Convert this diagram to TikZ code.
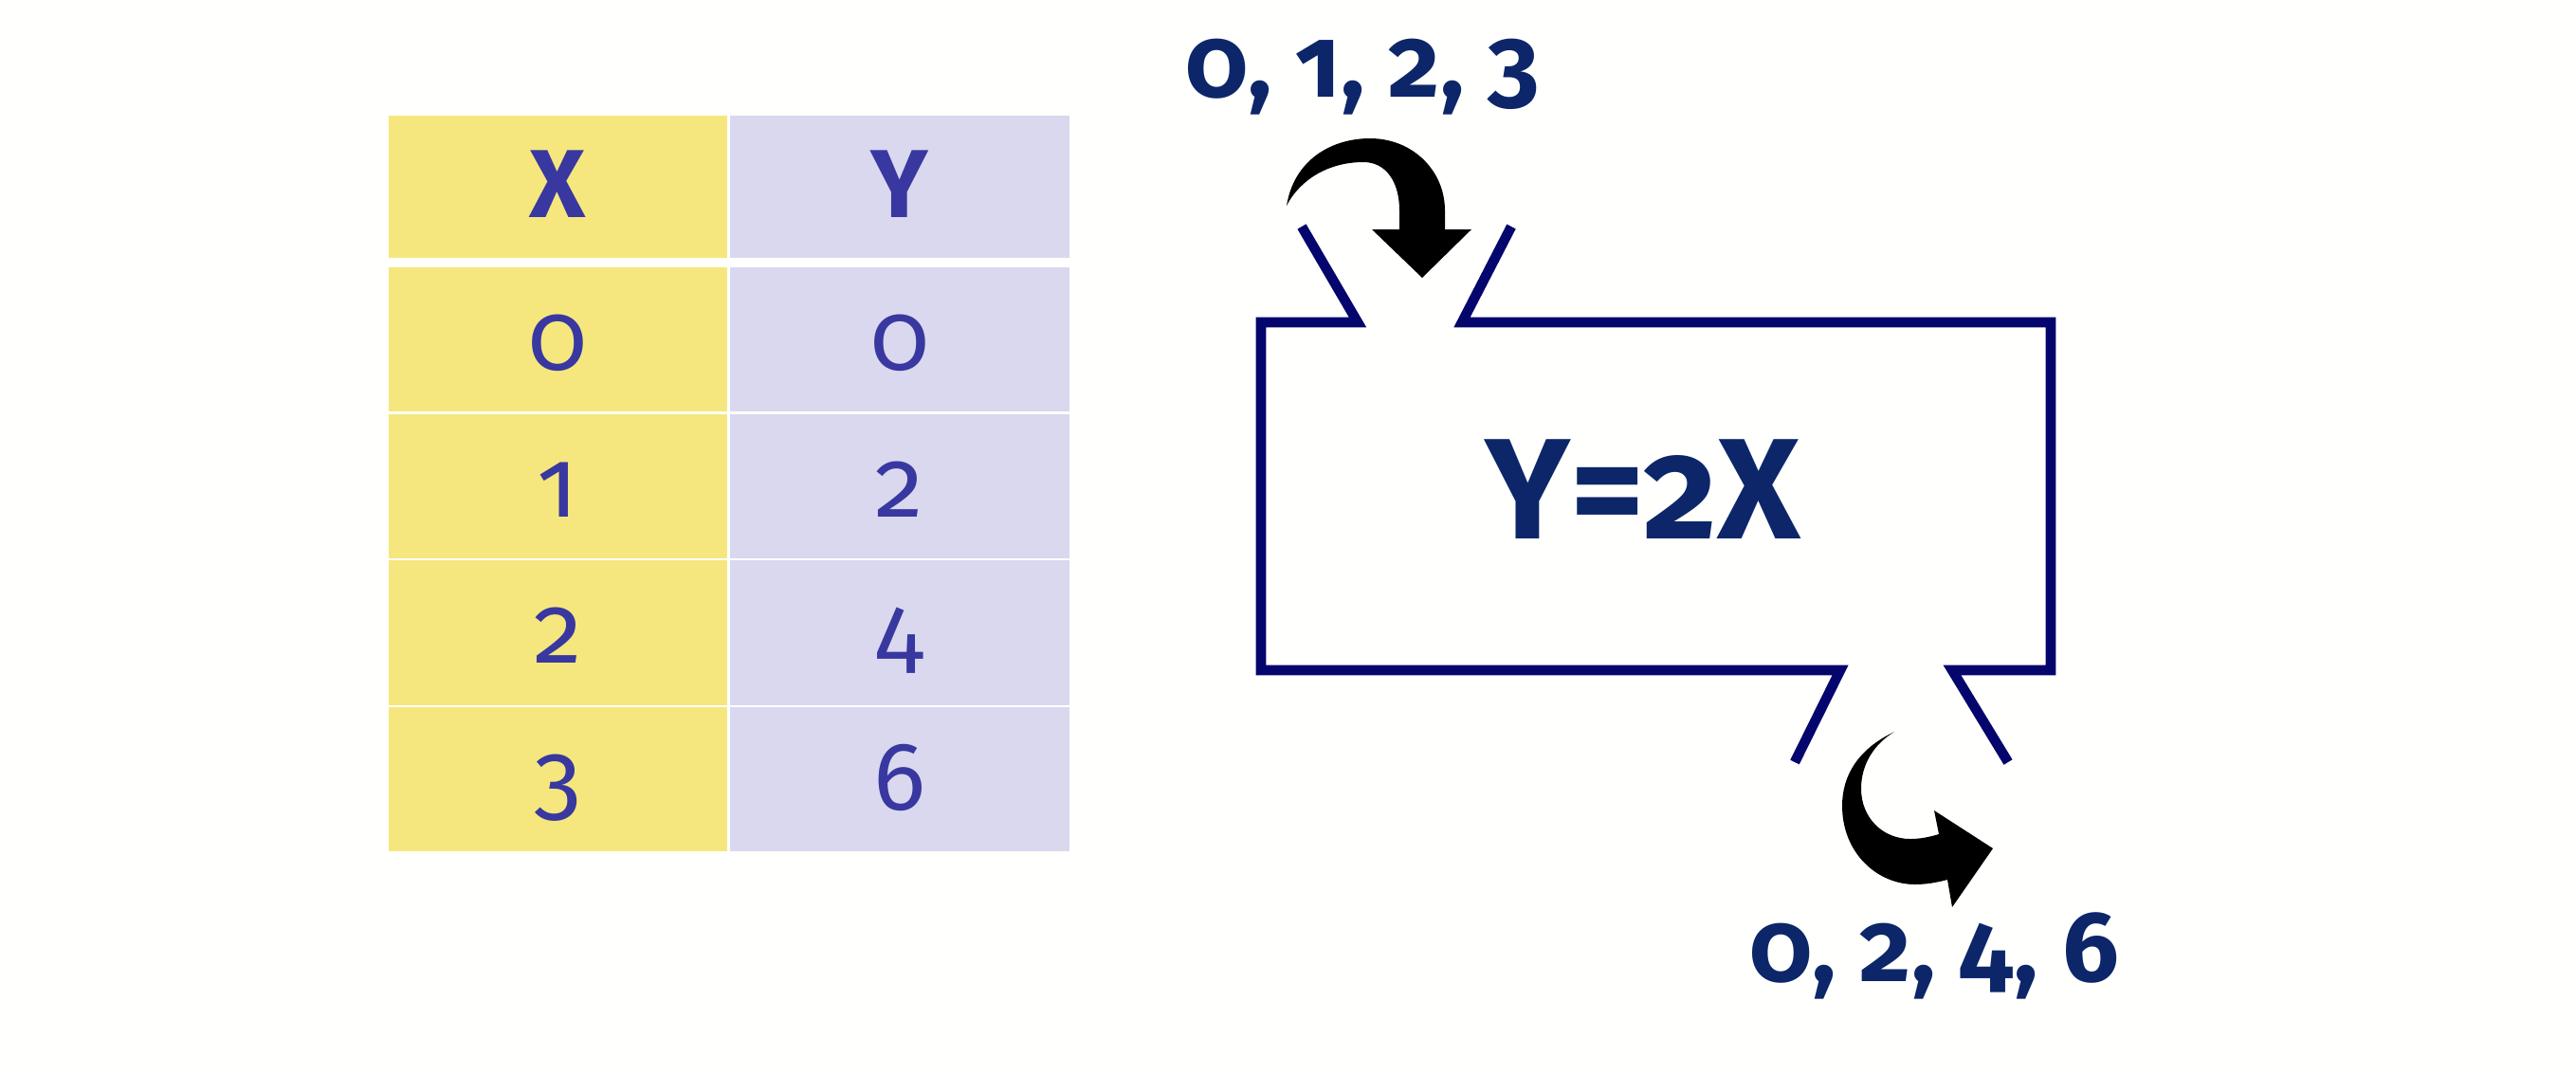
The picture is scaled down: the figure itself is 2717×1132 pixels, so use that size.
\documentclass[tikz,border=0pt]{standalone}
\usepackage{fontspec}
\setmainfont{Fira Sans}[Numbers=OldStyle]
\usepackage{tikz}

\definecolor{paper}{RGB}{255,255,253}
\definecolor{xyellow}{RGB}{245,231,126}
\definecolor{ylav}{RGB}{217,216,239}
\definecolor{tabtext}{RGB}{56,56,160}
\definecolor{boxnavy}{RGB}{5,5,110}
\definecolor{labnavy}{RGB}{12,38,105}

\begin{document}
\begin{tikzpicture}[x=0.01cm,y=-0.01cm,
	cell/.style={minimum width=3.57cm,minimum height=1.52cm,inner sep=0pt,text=tabtext,
		font=\fontsize{29}{34}\selectfont,text height=0.74cm,text depth=0.10cm},
	xcell/.style={cell,fill=xyellow},
	ycell/.style={cell,fill=ylav},
	headcell/.style={minimum height=1.50cm,font=\fontsize{29}{34}\selectfont\bfseries},
	machine/.style={draw=boxnavy,line width=3pt},
	flow/.style={text=labnavy,font=\fontsize{30}{36}\selectfont\bfseries,anchor=base}]

		\fill[paper] (0,0) rectangle (2717,1132);
		\useasboundingbox (0,0) rectangle (2717,1132);

		% table
		\node[xcell,headcell] (hx) at (588.5,197) {X};
		\node[ycell,headcell] (hy) at (949,197) {Y};
		\node[xcell] (x1) at (588.5,358) {0};   \node[ycell] (y1) at (949,358) {0};
		\node[xcell] (x2) at (588.5,513) {1};   \node[ycell] (y2) at (949,513) {2};
		\node[xcell] (x3) at (588.5,667.5) {2}; \node[ycell] (y3) at (949,667.5) {4};
		\node[xcell] (x4) at (588.5,822) {3};   \node[ycell] (y4) at (949,822) {6};

		% machine
		\coordinate (tl) at (1330,340); \coordinate (tr) at (2163,340);
		\coordinate (bl) at (1330,707); \coordinate (br) at (2163,707);
		\coordinate (inL) at (1432,340); \coordinate (inLtop) at (1373,239);
		\coordinate (inR) at (1542,340); \coordinate (inRtop) at (1594,239);
		\coordinate (outL) at (1941,707); \coordinate (outLbot) at (1893,804);
		\coordinate (outR) at (2059,707); \coordinate (outRbot) at (2118,804);

		\draw[machine] (inLtop) -- (inL) -- (tl) -- (bl) -- (outL) -- (outLbot);
		\draw[machine] (inRtop) -- (inR) -- (tr) -- (br) -- (outR) -- (outRbot);

		\node[anchor=base,text=labnavy,font=\fontsize{43}{50}\selectfont\bfseries] (rule) at (1733,568) {Y=2X};

		% curly arrows
		\fill (1357,217) .. controls (1365,168) and (1405,146) .. (1445,146)
			.. controls (1490,146) and (1524,180) .. (1524,222) -- (1524,242) -- (1552,242)
			-- (1500,293) -- (1447,242) -- (1476,242) -- (1476,222)
			.. controls (1476,192) and (1462,171) .. (1438,171)
			.. controls (1403,171) and (1372,188) .. (1357,217) -- cycle;
		\fill (1998,772) .. controls (1960,790) and (1943,818) .. (1943,850)
			.. controls (1943,900) and (1980,933) .. (2020,933)
			.. controls (2031,933) and (2043,931) .. (2054,928) -- (2059,957) -- (2102,895)
			-- (2040,855) -- (2045,880) .. controls (2035,883) and (2025,885) .. (2015,885)
			.. controls (1985,885) and (1963,862) .. (1963,832)
			.. controls (1963,805) and (1978,784) .. (1998,772) -- cycle;

		\node[flow] (inputs) at (1437,102) {0, 1, 2, 3};
		\node[flow] (outputs) at (2040,1035) {0, 2, 4, 6};

	\end{tikzpicture}
\end{document}
